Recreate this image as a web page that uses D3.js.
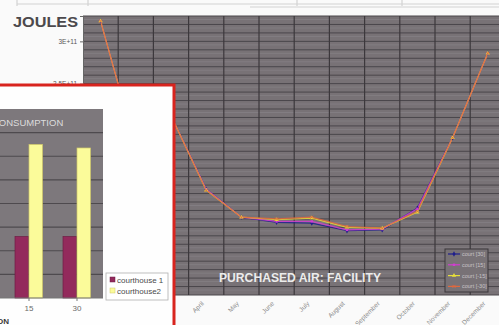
<!DOCTYPE html>
<html><head><meta charset="utf-8">
<script src="https://cdn.jsdelivr.net/npm/d3@7"></script>
<style>html,body{margin:0;padding:0;background:#fafafa;}svg{display:block;}</style>
</head><body>
<svg id="c" width="499" height="325"></svg>
<script>
// ---------- data ----------
const months = ["January","February","March","April","May","June","July","August","September","October","November","December"];
const seriesNames = ["court [30]","court [15]","court [-15]","court [-30]"];
const court30  = [3.24e11,1.75e11,2.12e11,1.25e11,0.92e11,0.86e11,0.85e11,0.76e11,0.77e11,1.03e11,1.86e11,2.86e11];
const court15  = [3.24e11,1.75e11,2.12e11,1.25e11,0.92e11,0.87e11,0.87e11,0.77e11,0.78e11,1.02e11,1.86e11,2.86e11];
const courtM15 = [3.24e11,1.75e11,2.12e11,1.24e11,0.92e11,0.89e11,0.91e11,0.80e11,0.79e11,0.98e11,1.86e11,2.86e11];
const courtM30 = [3.24e11,1.75e11,2.12e11,1.24e11,0.92e11,0.90e11,0.92e11,0.81e11,0.79e11,0.99e11,1.86e11,2.86e11];
const yTicks = [0,5e10,1e11,1.5e11,2e11,2.5e11,3e11];

const insetCats = ["-30","-15","15","30"];
const courthouse1 = [2.6,2.6,2.6,2.6];
const courthouse2 = [6.4,6.45,6.5,6.35];
const insetNames = ["courthouse 1","courthouse2"];

// ---------- setup ----------
const svg = d3.select("#c");
const font = "Liberation Sans, Arial, sans-serif";

// top table remnants
const tbl = svg.append("g").attr("stroke","#d2d2d2").attr("stroke-width",1.2).attr("fill","none");
tbl.append("line").attr("x1",17).attr("x2",499).attr("y1",4).attr("y2",4);
tbl.append("line").attr("x1",250).attr("x2",499).attr("y1",7).attr("y2",7);
[17,88,297,402].forEach(x=>tbl.append("line").attr("x1",x).attr("x2",x).attr("y1",0).attr("y2",6));

// ---------- main chart ----------
const P = {l:83, r:505.4, t:16, b:295};
const x = d3.scaleBand().domain(months).range([P.l,P.r]);
const y = d3.scaleLinear().domain([0,3.3e11]).range([P.b,P.t]);

svg.append("rect").attr("x",P.l).attr("y",P.t).attr("width",P.r-P.l).attr("height",P.b-P.t)
  .attr("fill","#787276");

// horizontal gridlines every 1e10
const hg = d3.range(0,3.31e11,1e10);
svg.append("g").selectAll("line").data(hg.slice(1)).join("line")
  .attr("x1",P.l).attr("x2",P.r).attr("y1",d=>y(d)+3.5).attr("y2",d=>y(d)+3.5)
  .attr("stroke","#858085").attr("stroke-width",0.8);
svg.append("g").selectAll("line").data(hg).join("line")
  .attr("x1",P.l).attr("x2",P.r).attr("y1",d=>y(d)).attr("y2",d=>y(d))
  .attr("stroke","#4a464b").attr("stroke-width",1);
// vertical gridlines at category boundaries
svg.append("g").selectAll("line").data(months.slice(1)).join("line")
  .attr("x1",d=>x(d)).attr("x2",d=>x(d)).attr("y1",P.t).attr("y2",P.b)
  .attr("stroke","#3c383c").attr("stroke-width",1.2);

// y axis (labels lying behind the inset panel are not rendered)
const insetTop = 85;
const fmt = d => d===0 ? "0" : d.toExponential().replace("e","E");
const ya = svg.append("g").attr("transform",`translate(${P.l},0)`)
  .call(d3.axisLeft(y).tickValues(yTicks).tickFormat(fmt).tickSize(3));
ya.select(".domain").attr("stroke","#666");
ya.selectAll(".tick line").attr("stroke","#666");
ya.selectAll("text").attr("font-family",font).attr("font-size",6.5).attr("fill","#555");
ya.selectAll(".tick").filter(d=>y(d) > insetTop+4).select("text").remove();

// x axis labels
const xa = svg.append("g").attr("transform",`translate(0,${P.b})`)
  .call(d3.axisBottom(x).tickSize(0));
xa.select(".domain").remove();
xa.selectAll("text").attr("font-family",font).attr("font-size",6.5).attr("fill","#8a8a8a")
  .attr("text-anchor","end").attr("dy",0).attr("y",0)
  .attr("transform","translate(-2,9) rotate(-45)");

// lines
const colors = ["#1e1e8c","#d23cd2","#e6df3a","#e0683e"];
const allSeries = [court30, court15, courtM15, courtM30];
const cx = d => x(d) + x.bandwidth()/2;
const line = d3.line().x((d,i)=>cx(months[i])).y(d=>y(d));
allSeries.forEach((s,k)=>{
  svg.append("path").datum(s).attr("d",line).attr("fill","none")
    .attr("stroke",colors[k]).attr("stroke-width",1.2).attr("opacity",0.85);
});
const symbols = [d3.symbolDiamond, d3.symbolSquare, d3.symbolTriangle, d3.symbolCross];
function marker(g,k,px,py){
  if(k===3){
    g.append("path").attr("d",`M${px-1.5},${py-1.5}L${px+1.5},${py+1.5}M${px-1.5},${py+1.5}L${px+1.5},${py-1.5}`)
      .attr("stroke",colors[k]).attr("stroke-width",0.9);
  } else {
    g.append("path").attr("d",d3.symbol(symbols[k],k===1?6:8)())
      .attr("transform",`translate(${px},${py})`).attr("fill",colors[k]);
  }
}
allSeries.forEach((s,k)=>{
  const g = svg.append("g");
  s.forEach((v,i)=>marker(g,k,cx(months[i]),y(v)));
});

// chart title
svg.append("text").attr("x",219).attr("y",282).text("PURCHASED AIR: FACILITY")
  .attr("font-family",font).attr("font-weight","bold").attr("font-size",12.3).attr("fill","#ececec")
  .attr("textLength",162).attr("lengthAdjust","spacingAndGlyphs");

// legend
const lg = svg.append("g");
lg.append("rect").attr("x",445).attr("y",249).attr("width",43).attr("height",43)
  .attr("fill","#787276").attr("stroke","#3a363a").attr("stroke-width",1);
seriesNames.forEach((n,k)=>{
  const yy = 254 + k*10.8;
  lg.append("line").attr("x1",448).attr("x2",460).attr("y1",yy).attr("y2",yy)
    .attr("stroke",colors[k]).attr("stroke-width",1.2);
  marker(lg,k,454,yy);
  lg.append("text").attr("x",462).attr("y",yy+2).text(n)
    .attr("font-family",font).attr("font-size",5.5).attr("fill","#c8c4c8");
});

// JOULES
svg.append("text").attr("x",13).attr("y",27).text("JOULES")
  .attr("font-family",font).attr("font-weight","bold").attr("font-size",15).attr("fill","#4c494c")
  .attr("textLength",65).attr("lengthAdjust","spacingAndGlyphs");

// ---------- inset ----------
const ins = svg.append("g");
ins.append("rect").attr("x",-10).attr("y",insetTop).attr("width",184).attr("height",260)
  .attr("fill","#fefefe").attr("stroke","#d8241e").attr("stroke-width",3);

const I = {l:-115, r:103, t:109, b:298};
const ix = d3.scaleBand().domain(insetCats).range([-91,101]).paddingInner(0);
const iy = d3.scaleLinear().domain([0,8]).range([I.b,I.t]);
ins.append("rect").attr("x",I.l).attr("y",I.t).attr("width",I.r-I.l).attr("height",I.b-I.t)
  .attr("fill","#7d787c");
ins.append("g").selectAll("line").data(d3.range(1,8)).join("line")
  .attr("x1",I.l).attr("x2",I.r).attr("y1",d=>iy(d)).attr("y2",d=>iy(d))
  .attr("stroke","#4e4a4e").attr("stroke-width",1.2);
ins.append("text").attr("x",-8).attr("y",126).text("CONSUMPTION")
  .attr("font-family",font).attr("font-size",9.5).attr("fill","#dcdcdc");

const ib = d3.scaleBand().domain([0,1]).range([0,28]);
const barCols = ["#932a5c","#fbfb9a"];
[courthouse1, courthouse2].forEach((s,k)=>{
  ins.append("g").selectAll("rect").data(s).join("rect")
    .attr("x",(d,i)=>ix(insetCats[i]) + ix.bandwidth()/2 - 14 + ib(k))
    .attr("width",ib.bandwidth()-0.5)
    .attr("y",d=>iy(d)).attr("height",d=>iy(0)-iy(d))
    .attr("fill",barCols[k]).attr("stroke",k===1?"#cfc86a":"#6e1d44").attr("stroke-width",0.7);
});
ins.append("line").attr("x1",I.l).attr("x2",I.r).attr("y1",I.b).attr("y2",I.b).attr("stroke","#777");
const ixa = ins.append("g").attr("transform",`translate(0,${I.b})`).call(d3.axisBottom(ix).tickSize(3));
ixa.select(".domain").remove();
ixa.selectAll(".tick line").attr("stroke","#777");
ixa.selectAll("text").attr("font-family",font).attr("font-size",8).attr("fill","#6a6a6a").attr("dy","0.9em");
ixa.selectAll(".tick").filter(d=>ix(d)+ix.bandwidth()/2 < 0).select("text").remove();
ins.append("text").attr("x",9).attr("y",324).attr("text-anchor","end").text("ORIENTATION")
  .attr("font-family",font).attr("font-weight","bold").attr("font-size",8).attr("fill","#3a3a3a");

// inset legend
ins.append("rect").attr("x",106).attr("y",273).attr("width",62).attr("height",27)
  .attr("fill","#fff").attr("stroke","#b0b0b0").attr("stroke-width",0.8);
insetNames.forEach((n,k)=>{
  const yy = 280 + k*11;
  ins.append("rect").attr("x",110).attr("y",yy-3).attr("width",5).attr("height",5)
    .attr("fill",barCols[k]).attr("stroke",k===1?"#cfc86a":"#6e1d44").attr("stroke-width",0.5);
  ins.append("text").attr("x",117).attr("y",yy+2.5).text(n)
    .attr("font-family",font).attr("font-size",8).attr("fill","#4a4a4a");
});
</script>
</body></html>
